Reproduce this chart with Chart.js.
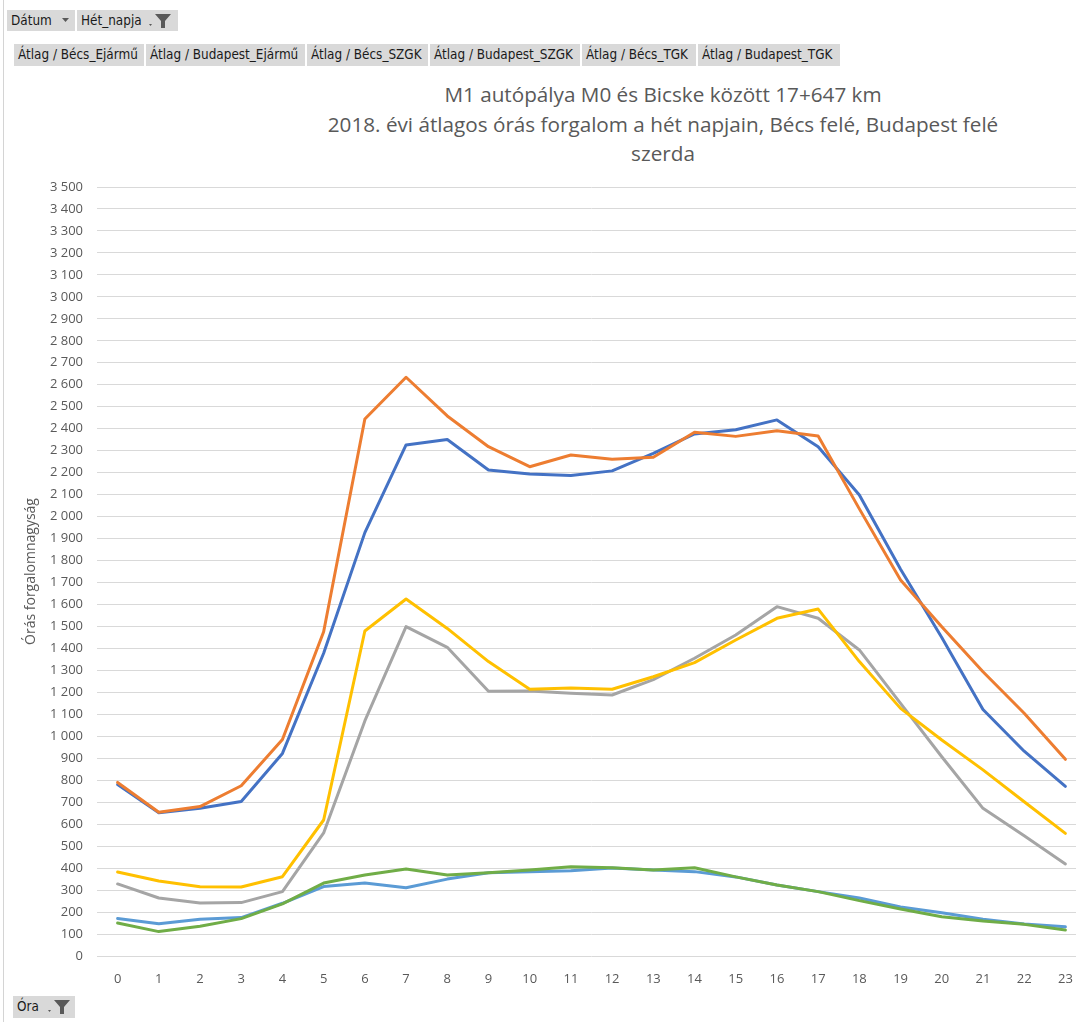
<!DOCTYPE html>
<html>
<head>
<meta charset="utf-8">
<script src="https://cdn.jsdelivr.net/npm/chart.js@4"></script>
<style>
  html, body { margin:0; padding:0; background:#fff; overflow:hidden; width:1076px; height:1022px; }
  #wrap { position:absolute; left:0; top:0; width:1100px; height:1022px; }
  #leftline { position:absolute; left:3px; top:0; width:1px; height:1022px; background:#d4d4d4; }
  .btn { position:absolute; height:21px; line-height:21px; background:#d9d9d9; color:#1a1a1a;
         font-family:"DejaVu Sans Condensed","DejaVu Sans",sans-serif; font-size:13.4px; padding:0 0 0 4px; box-sizing:border-box; white-space:nowrap; }
  .title { position:absolute; left:213px; width:900px; text-align:center; color:#595959;
           font-family:"Open Sans",sans-serif; font-size:20.7px; white-space:nowrap; line-height:28px; }
  svg.icon { position:absolute; top:4px; }
</style>
</head>
<body>
<div id="leftline"></div>
<div class="btn" style="left:7px;top:10px;width:68px;">Dátum<svg class="icon" style="left:55px;top:8px" width="8" height="5"><path d="M0 0 L7 0 L3.5 4 Z" fill="#595959"/></svg></div>
<div class="btn" style="left:77px;top:10px;width:101px;">Hét_napja<svg class="icon" style="left:70px;top:3px" width="26" height="16"><path d="M2 11 L5 11 L3.5 13 Z" fill="#595959"/><path d="M8 1 L24 1 L18 8 L18 15 L14 15 L14 8 Z" fill="#595959"/></svg></div>

<div class="btn" style="left:14px;top:44px;width:130px;height:22px;line-height:22px;">Átlag / Bécs_Ejármű</div>
<div class="btn" style="left:146px;top:44px;width:159px;height:22px;line-height:22px;">Átlag / Budapest_Ejármű</div>
<div class="btn" style="left:307px;top:44px;width:121px;height:22px;line-height:22px;">Átlag / Bécs_SZGK</div>
<div class="btn" style="left:430px;top:44px;width:150px;height:22px;line-height:22px;">Átlag / Budapest_SZGK</div>
<div class="btn" style="left:582px;top:44px;width:114px;height:22px;line-height:22px;">Átlag / Bécs_TGK</div>
<div class="btn" style="left:698px;top:44px;width:142px;height:22px;line-height:22px;">Átlag / Budapest_TGK</div>

<div class="title" style="top:80px;">M1 autópálya M0 és Bicske között 17+647 km</div>
<div class="title" style="top:110px;">2018. évi átlagos órás forgalom a hét napjain, Bécs felé, Budapest felé</div>
<div class="title" style="top:139px;">szerda</div>

<div class="btn" style="left:13px;top:996px;width:62px;height:22px;line-height:22px;">Óra<svg class="icon" style="left:33px;top:3px" width="26" height="16"><path d="M2 11 L5 11 L3.5 13 Z" fill="#595959"/><path d="M8 1 L24 1 L18 8 L18 15 L14 15 L14 8 Z" fill="#595959"/></svg></div>

<div id="wrap"><canvas id="c" width="1100" height="1022"></canvas></div>

<script>
const hours = ['0','1','2','3','4','5','6','7','8','9','10','11','12','13','14','15','16','17','18','19','20','21','22','23'];
const seriesNames = ['Átlag / Bécs_Ejármű','Átlag / Budapest_Ejármű','Átlag / Bécs_SZGK','Átlag / Budapest_SZGK','Átlag / Bécs_TGK','Átlag / Budapest_TGK'];
const becsEjarmu     = [780, 652, 672, 703, 922, 1378, 1927, 2326, 2351, 2212, 2194, 2187, 2208, 2288, 2376, 2395, 2440, 2318, 2098, 1760, 1450, 1122, 932, 772];
const budapestEjarmu = [790, 654, 680, 775, 985, 1476, 2444, 2634, 2458, 2318, 2227, 2280, 2261, 2270, 2384, 2365, 2391, 2367, 2035, 1711, 1499, 1294, 1105, 895];
const becsSZGK       = [328, 264, 241, 243, 293, 560, 1070, 1499, 1405, 1205, 1206, 1196, 1188, 1258, 1355, 1461, 1590, 1537, 1393, 1150, 907, 672, 547, 419];
const budapestSZGK   = [382, 341, 315, 314, 361, 619, 1479, 1625, 1491, 1340, 1214, 1220, 1214, 1271, 1335, 1438, 1537, 1579, 1340, 1127, 983, 847, 702, 558];
const becsTGK        = [171, 147, 167, 175, 240, 316, 332, 311, 350, 379, 384, 388, 400, 391, 384, 360, 323, 293, 264, 223, 197, 167, 146, 133];
const budapestTGK    = [150, 111, 135, 170, 237, 332, 369, 396, 369, 379, 391, 406, 402, 391, 402, 360, 323, 293, 252, 214, 179, 159, 144, 118];
const colors = ['#4472C4','#ED7D31','#A5A5A5','#FFC000','#5B9BD5','#70AD47'];
const allSeries = [becsEjarmu, budapestEjarmu, becsSZGK, budapestSZGK, becsTGK, budapestTGK];

const datasets = allSeries.map((d, i) => ({
  label: seriesNames[i],
  data: d,
  borderColor: colors[i],
  backgroundColor: colors[i],
  borderWidth: 3,
  pointRadius: 0,
  tension: 0,
  fill: false,
  borderCapStyle: 'round',
  borderJoinStyle: 'round',
  order: 6 - i
}));

function fmt(v) {
  return String(v).replace(/\B(?=(\d{3})+(?!\d))/g, ' ');
}

new Chart(document.getElementById('c'), {
  type: 'line',
  data: { labels: hours, datasets },
  options: {
    responsive: false,
    animation: false,
    devicePixelRatio: 1,
    layout: { padding: { top: 187, left: 0, right: 14, bottom: 0 } },
    plugins: { legend: { display: false }, title: { display: false }, tooltip: { enabled: false } },
    scales: {
      x: {
        offset: true,
        grid: { display: false, drawTicks: false },
        border: { display: false },
        ticks: { color: '#595959', font: { family: 'Open Sans', size: 13 }, padding: 15, maxRotation: 0, autoSkip: false },
        afterFit: s => { s.height = 66; }
      },
      y: {
        min: 0, max: 3500,
        grid: { color: '#d9d9d9', lineWidth: 1, drawTicks: false },
        border: { display: false },
        ticks: { stepSize: 100, color: '#595959', font: { family: 'Open Sans', size: 13 }, padding: 14, callback: v => fmt(v) },
        title: { display: true, text: 'Órás forgalomnagyság', color: '#595959', font: { family: 'Open Sans', size: 14 }, padding: { top: 23, bottom: 0 } },
        afterFit: s => { s.width = 97; }
      }
    }
  }
});
</script>
</body>
</html>
